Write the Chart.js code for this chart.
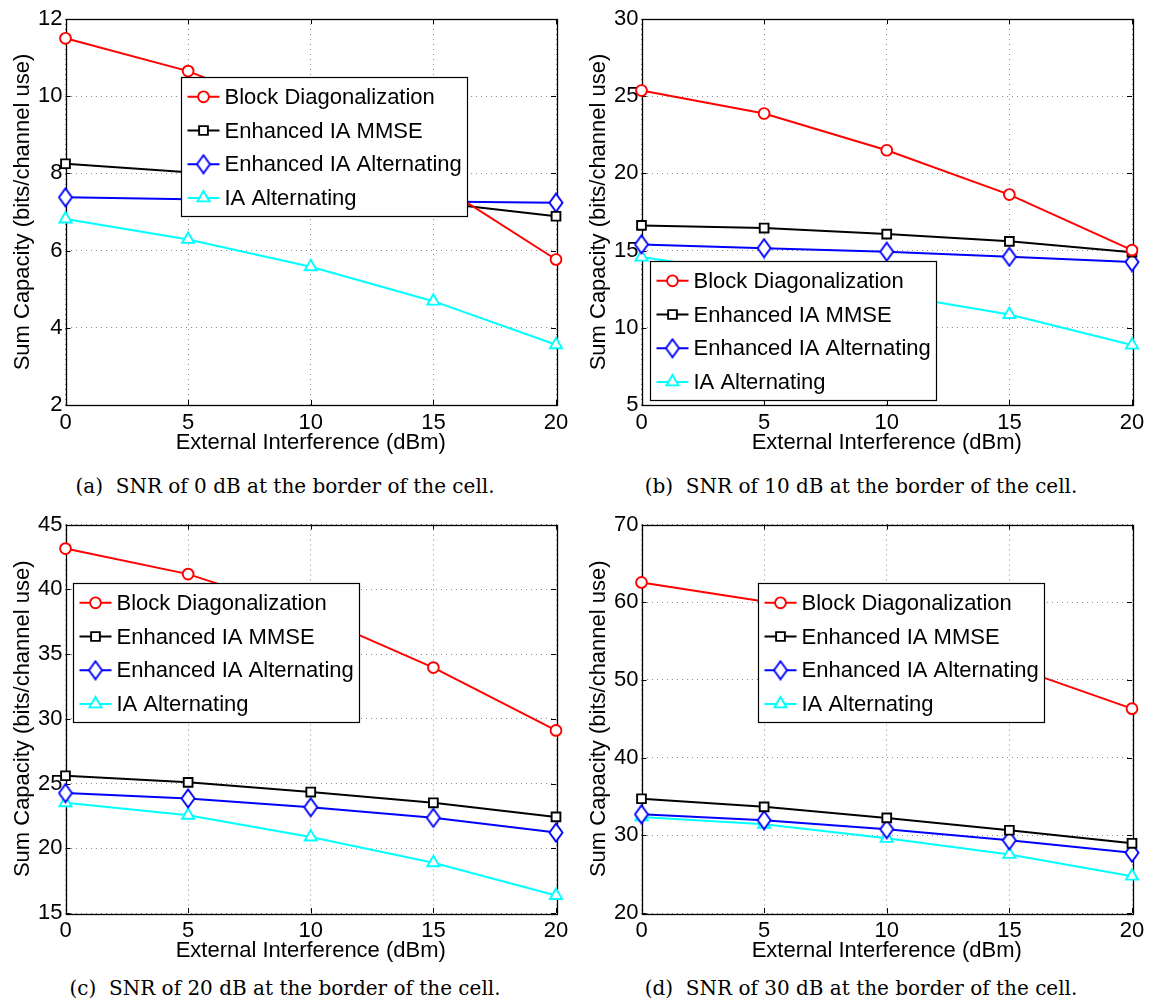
<!DOCTYPE html>
<html><head><meta charset="utf-8">
<script src="https://cdn.jsdelivr.net/npm/chart.js@4.4.1/dist/chart.umd.min.js"></script>
<style>
html,body{margin:0;padding:0;background:#fff;}
body{width:1153px;height:1000px;position:relative;overflow:hidden;}
.panel{position:absolute;width:576px;}
.panel canvas{display:block;}
.cap{position:absolute;width:570px;text-align:center;font-family:"DejaVu Serif",serif;font-size:20px;line-height:24px;color:#000;white-space:nowrap;}
</style></head><body>
<div class="panel" style="left:0;top:0;"><canvas id="ca" width="576" height="460"></canvas></div>
<div class="panel" style="left:576px;top:0;"><canvas id="cb" width="576" height="460"></canvas></div>
<div class="panel" style="left:0;top:505px;"><canvas id="cc" width="576" height="463"></canvas></div>
<div class="panel" style="left:576px;top:505px;"><canvas id="cd" width="576" height="463"></canvas></div>
<div class="cap" style="left:0;top:474px;">(a)&nbsp; SNR of 0 dB at the border of the cell.</div>
<div class="cap" style="left:576px;top:474px;">(b)&nbsp; SNR of 10 dB at the border of the cell.</div>
<div class="cap" style="left:0;top:976px;">(c)&nbsp; SNR of 20 dB at the border of the cell.</div>
<div class="cap" style="left:576px;top:976px;">(d)&nbsp; SNR of 30 dB at the border of the cell.</div>
<script>
// ---------- data ----------
const xValues = [0, 5, 10, 15, 20];
const seriesNames = ['Block Diagonalization', 'Enhanced IA MMSE', 'Enhanced IA Alternating', 'IA Alternating'];
const xTitle = 'External Interference (dBm)';
const yTitle = 'Sum Capacity (bits/channel use)';

// (a) SNR 0 dB
const snr0_bd    = [11.50, 10.65, 9.40, 7.80, 5.77];
const snr0_mmse  = [8.25, 8.03, 7.70, 7.25, 6.89];
const snr0_eiaAlt= [7.38, 7.33, 7.30, 7.27, 7.24];
const snr0_iaAlt = [6.82, 6.29, 5.58, 4.69, 3.56];
const snr0_yTicks = [2, 12, 2];

// (b) SNR 10 dB
const snr10_bd    = [25.37, 23.88, 21.50, 18.63, 15.03];
const snr10_mmse  = [16.63, 16.46, 16.07, 15.60, 14.90];
const snr10_eiaAlt= [15.40, 15.16, 14.93, 14.60, 14.26];
const snr10_iaAlt = [14.58, 13.40, 12.20, 10.86, 8.88];
const snr10_yTicks = [5, 30, 5];

// (c) SNR 20 dB
const snr20_bd    = [43.14, 41.17, 38.10, 33.95, 29.10];
const snr20_mmse  = [25.60, 25.09, 24.34, 23.51, 22.42];
const snr20_eiaAlt= [24.26, 23.85, 23.17, 22.35, 21.21];
const snr20_iaAlt = [23.51, 22.55, 20.87, 18.88, 16.35];
const snr20_yTicks = [15, 45, 5];

// (d) SNR 30 dB
const snr30_bd    = [62.54, 60.10, 56.40, 51.84, 46.30];
const snr30_mmse  = [34.70, 33.66, 32.24, 30.65, 28.97];
const snr30_eiaAlt= [32.70, 31.94, 30.78, 29.35, 27.76];
const snr30_iaAlt = [32.37, 31.42, 29.61, 27.54, 24.74];
const snr30_yTicks = [20, 70, 10];

// ---------- styles ----------
function makeDiamond(color) {
  const c = document.createElement('canvas');
  c.width = 16; c.height = 21;
  const g = c.getContext('2d');
  g.beginPath();
  g.moveTo(8, 1.5); g.lineTo(14.5, 10.5); g.lineTo(8, 19.5); g.lineTo(1.5, 10.5); g.closePath();
  g.fillStyle = '#fff'; g.fill();
  g.lineWidth = 1.9; g.strokeStyle = color; g.stroke();
  return c;
}
const seriesStyles = [
  {color: '#ff0000', pointStyle: 'circle', radius: 5.4},
  {color: '#000000', pointStyle: 'rect', radius: 6.2},
  {color: '#0000ff', pointStyle: makeDiamond('#0000ff'), radius: 7},
  {color: '#00ffff', pointStyle: 'triangle', radius: 7}
];
const SANS = '"Liberation Sans", Arial, Helvetica, sans-serif';

function buildDatasets(seriesList) {
  return seriesList.map((vals, i) => ({
    label: seriesNames[i],
    data: xValues.map((x, j) => ({x: x, y: vals[j]})),
    borderColor: seriesStyles[i].color,
    backgroundColor: '#ffffff',
    pointBackgroundColor: '#ffffff',
    pointBorderColor: seriesStyles[i].color,
    pointStyle: seriesStyles[i].pointStyle,
    pointRadius: seriesStyles[i].radius,
    pointBorderWidth: 1.9,
    borderWidth: 2,
    tension: 0,
    clip: false,
    fill: false
  }));
}

const framePlugin = {
  id: 'frame',
  beforeDatasetsDraw(chart) {
    const {ctx, chartArea: a, scales} = chart;
    ctx.save();
    ctx.strokeStyle = '#000';
    ctx.lineWidth = 1;
    ctx.beginPath();
    const tl = 5;
    scales.x.ticks.forEach(t => {
      const px = Math.round(scales.x.getPixelForValue(t.value)) + 0.5;
      ctx.moveTo(px, a.bottom); ctx.lineTo(px, a.bottom - tl);
      ctx.moveTo(px, a.top); ctx.lineTo(px, a.top + tl);
    });
    scales.y.ticks.forEach(t => {
      const py = Math.round(scales.y.getPixelForValue(t.value)) + 0.5;
      ctx.moveTo(a.left, py); ctx.lineTo(a.left + tl, py);
      ctx.moveTo(a.right, py); ctx.lineTo(a.right - tl, py);
    });
    ctx.stroke();
    ctx.lineWidth = 1.3;
    ctx.strokeRect(Math.round(a.left) + 0.5, Math.round(a.top) + 0.5,
                   Math.round(a.right - a.left), Math.round(a.bottom - a.top));
    ctx.restore();
  }
};

const boxLegendPlugin = {
  id: 'boxLegend',
  afterDatasetsDraw(chart, args, opts) {
    const {ctx, chartArea: a} = chart;
    const font = '22px ' + SANS;
    ctx.save();
    ctx.font = font;
    const items = chart.data.datasets;
    let maxW = 0;
    items.forEach(d => { maxW = Math.max(maxW, ctx.measureText(d.label).width); });
    const bx = Math.round(a.left + opts.dx) + 0.5;
    const by = Math.round(a.top + opts.dy) + 0.5;
    const bw = Math.round(43 + maxW + 6);
    const rowH = 33.7;
    const bh = Math.round(19.3 + rowH * 3 + 19);
    ctx.fillStyle = '#fff';
    ctx.fillRect(bx, by, bw, bh);
    ctx.strokeStyle = '#000';
    ctx.lineWidth = 1.2;
    ctx.strokeRect(bx, by, bw, bh);
    items.forEach((d, i) => {
      const cy = by + 19.3 + i * rowH;
      ctx.strokeStyle = d.borderColor;
      ctx.lineWidth = 2;
      ctx.beginPath();
      ctx.moveTo(bx + 6, cy); ctx.lineTo(bx + 38, cy);
      ctx.stroke();
      ctx.fillStyle = '#fff';
      ctx.strokeStyle = d.pointBorderColor;
      ctx.lineWidth = d.pointBorderWidth;
      Chart.helpers.drawPoint(ctx, {pointStyle: d.pointStyle, radius: d.pointRadius, borderWidth: d.pointBorderWidth, rotation: 0}, bx + 22, cy);
      ctx.fillStyle = '#000';
      ctx.textAlign = 'left';
      ctx.textBaseline = 'middle';
      ctx.fillText(d.label, bx + 43, cy + 1);
    });
    ctx.restore();
  }
};

function makeChart(id, seriesList, yTicks, legendPos, topPad) {
  const [ymin, ymax, ystep] = yTicks;
  return new Chart(document.getElementById(id), {
    type: 'line',
    data: {datasets: buildDatasets(seriesList)},
    plugins: [framePlugin, boxLegendPlugin],
    options: {
      responsive: false,
      animation: false,
      events: [],
      layout: {padding: {left: 0, top: topPad, right: 20, bottom: 0}},
      plugins: {
        legend: {display: false},
        tooltip: {enabled: false},
        boxLegend: legendPos
      },
      scales: {
        x: {
          type: 'linear', min: 0, max: 20,
          afterFit(s) { s.height = 55; },
          ticks: {stepSize: 5, padding: 5, color: '#000', font: {family: SANS, size: 22}},
          grid: {color: 'rgba(0,0,0,0.45)', lineWidth: 1, drawTicks: false},
          border: {display: false, dash: [1, 4]},
          title: {display: true, text: xTitle, color: '#000', font: {family: SANS, size: 22}, padding: {top: 0, bottom: 4}}
        },
        y: {
          type: 'linear', min: ymin, max: ymax,
          afterFit(s) { s.width = 65.5; },
          ticks: {stepSize: ystep, padding: 3, color: '#000', font: {family: SANS, size: 22}},
          grid: {color: 'rgba(0,0,0,0.45)', lineWidth: 1, drawTicks: false},
          border: {display: false, dash: [1, 4]},
          title: {display: true, text: yTitle, color: '#000', font: {family: SANS, size: 22}, padding: {top: 10, bottom: 0}}
        }
      }
    }
  });
}

makeChart('ca', [snr0_bd, snr0_mmse, snr0_eiaAlt, snr0_iaAlt], snr0_yTicks, {dx: 115.5, dy: 58}, 19);
makeChart('cb', [snr10_bd, snr10_mmse, snr10_eiaAlt, snr10_iaAlt], snr10_yTicks, {dx: 8.5, dy: 241.7}, 19);
makeChart('cc', [snr20_bd, snr20_mmse, snr20_eiaAlt, snr20_iaAlt], snr20_yTicks, {dx: 7.5, dy: 58.5}, 19.5);
makeChart('cd', [snr30_bd, snr30_mmse, snr30_eiaAlt, snr30_iaAlt], snr30_yTicks, {dx: 116.5, dy: 58.5}, 19.5);
</script>
</body></html>
